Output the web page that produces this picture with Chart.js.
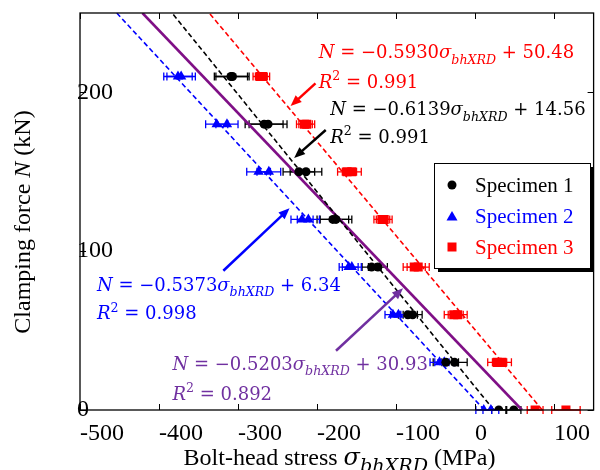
<!DOCTYPE html>
<html><head><meta charset="utf-8">
<script src="https://cdn.jsdelivr.net/npm/chart.js@4.4.1/dist/chart.umd.min.js"></script>
<style>html,body{margin:0;padding:0;background:#fff}canvas{display:block}</style>
</head><body>
<canvas id="c" width="600" height="470"></canvas>
<script>
// ---- data ----
const loadLevels  = [0,0,30,30,60,60,90,90,120,120,150,150,180,180,210,210]; // clamping force N (kN)
const spec1Stress = [30,49,-37,-26,-85,-79,-131,-123,-180,-176,-223,-214,-267,-262,-309,-307];
const spec1Error  = [9,9,16,16,12,12,12,12,20,20,20,20,24,24,21,21];
const spec2Stress = [11,20,-45,-39,-104,-97,-160,-156,-219,-211,-274,-261,-327,-314,-376,-372];
const spec2Error  = [10,10,12,12,10,10,12,12,14,14,15,15,14,14,18,18];
const spec3Stress = [76,115,28,34,-27,-22,-77,-72,-118,-115,-162,-156,-216,-213,-272,-269];
const spec3Error  = [10,18,12,12,12,12,14,14,10,10,12,12,10,10,9,9];

const fitForce     = [0, 250];
const fit1Stress   = [23.7, -383.5];   // specimen 1
const fit2Stress   = [11.8, -453.5];   // specimen 2
const fit3Stress   = [85.1, -336.5];   // specimen 3
const fitAllStress = [59.4, -421.0];   // all specimens

const seriesNames = ['Specimen 1', 'Specimen 2', 'Specimen 3'];
const fitSlopes     = ['0.6139', '0.5373', '0.5930', '0.5203'];
const fitIntercepts = ['14.56', '6.34', '50.48', '30.93'];
const fitR2         = ['0.991', '0.998', '0.991', '0.892'];
// annotation anchors (stress, force): equation baseline, R² baseline
const eqAnchorStress = [-183.3, -478.5, -197.9, -383.0];
const eqAnchorForce  = [185.5, 75.1, 221.5, 25.2];
const r2AnchorForce  = [168.1, 57.1, 203.0, 6.3];
// arrows (stress, force) from -> to
const arrowFromStress = [-189, -318.6, -202, -176];
const arrowFromForce  = [176.3, 87.7, 205.7, 37.3];
const arrowToStress   = [-229, -234.8, -233.5, -91.2];
const arrowToForce    = [158.7, 127.0, 191.4, 76.6];

const xTickLabels = [-500,-400,-300,-200,-100,0,100];
const yTickLabels = [0,100,200];

const BLACK = '#000000', BLUE = '#0000FF', RED = '#FF0000', PURPLE_LINE = '#7F0F86', PURPLE_TXT = '#7030A0';
const colors = [BLACK, BLUE, RED, PURPLE_TXT];
const SERIF = 'Liberation Serif';
const MATH = 'DejaVu Serif';

function pts(xs, ys){ return xs.map((x,i)=>({x:x, y:ys[i]})); }

function segSize(s,size){ return (s.sub||s.sup)?size*(s.k||0.7):size; }
function richWidth(ctx, segs, size, fam){
  let w=0;
  for(const s of segs){
    ctx.font=(s.it?'italic ':'')+segSize(s,size)+'px "'+(s.fam||fam)+'"';
    w+=ctx.measureText(s.t).width;
  }
  return w;
}
function drawRich(ctx, segs, x, y, size, fam, color){
  let cx=x;
  ctx.fillStyle=color; ctx.textAlign='left'; ctx.textBaseline='alphabetic';
  for(const s of segs){
    ctx.font=(s.it?'italic ':'')+segSize(s,size)+'px "'+(s.fam||fam)+'"';
    const dy=s.sub?size*0.3:(s.sup?-size*0.42:0);
    ctx.fillText(s.t, cx, y+dy);
    cx+=ctx.measureText(s.t).width;
  }
}
function arrow(ctx,x1,y1,x2,y2,color){
  const a=Math.atan2(y2-y1,x2-x1), L=11, W=4.5, c=Math.cos(a), s=Math.sin(a);
  ctx.save();
  ctx.strokeStyle=color; ctx.lineWidth=2.5; ctx.setLineDash([]);
  ctx.beginPath(); ctx.moveTo(x1,y1); ctx.lineTo(x2-L*0.8*c, y2-L*0.8*s); ctx.stroke();
  ctx.fillStyle=color; ctx.beginPath(); ctx.moveTo(x2,y2);
  ctx.lineTo(x2-L*c+W*s, y2-L*s-W*c);
  ctx.lineTo(x2-L*c-W*s, y2-L*s+W*c);
  ctx.closePath(); ctx.fill();
  ctx.restore();
}

const specStress=[spec1Stress,spec2Stress,spec3Stress];
const specError=[spec1Error,spec2Error,spec3Error];

const deco = {
  id:'deco',
  beforeDatasetsDraw(chart){
    const ctx=chart.ctx, xs=chart.scales.x, ys=chart.scales.y, ca=chart.chartArea;
    ctx.save();
    ctx.beginPath(); ctx.rect(ca.left,ca.top-5,ca.right-ca.left,ca.bottom-ca.top+10); ctx.clip();
    ctx.lineWidth=1.3;
    for(let k=0;k<3;k++){
      ctx.strokeStyle=colors[k];
      specStress[k].forEach((v,i)=>{
        const y=ys.getPixelForValue(loadLevels[i]);
        const xa=xs.getPixelForValue(v-specError[k][i]), xb=xs.getPixelForValue(v+specError[k][i]);
        ctx.beginPath();
        ctx.moveTo(xa,y); ctx.lineTo(xb,y);
        ctx.moveTo(xa,y-4); ctx.lineTo(xa,y+4);
        ctx.moveTo(xb,y-4); ctx.lineTo(xb,y+4);
        ctx.stroke();
      });
    }
    ctx.restore();
  },
  afterDraw(chart){
    const ctx=chart.ctx, xs=chart.scales.x, ys=chart.scales.y, ca=chart.chartArea;
    ctx.save();
    // frame
    ctx.strokeStyle='#000'; ctx.lineWidth=1.3;
    ctx.strokeRect(ca.left,ca.top,ca.right-ca.left,ca.bottom-ca.top);
    // inward ticks
    ctx.lineWidth=1;
    xs.ticks.forEach(t=>{
      const x=Math.round(xs.getPixelForValue(t.value))+0.5;
      ctx.beginPath(); ctx.moveTo(x,ca.bottom); ctx.lineTo(x,ca.bottom-6);
      ctx.moveTo(x,ca.top); ctx.lineTo(x,ca.top+6); ctx.stroke();
    });
    ys.ticks.forEach(t=>{
      const y=Math.round(ys.getPixelForValue(t.value))+0.5;
      ctx.beginPath(); ctx.moveTo(ca.left,y); ctx.lineTo(ca.left+6,y);
      ctx.moveTo(ca.right,y); ctx.lineTo(ca.right-6,y); ctx.stroke();
    });
    // arrows
    for(let k=0;k<4;k++){
      arrow(ctx, xs.getPixelForValue(arrowFromStress[k]), ys.getPixelForValue(arrowFromForce[k]),
                 xs.getPixelForValue(arrowToStress[k]), ys.getPixelForValue(arrowToForce[k]), colors[k]);
    }
    // equations
    for(let k=0;k<4;k++){
      const x=xs.getPixelForValue(eqAnchorStress[k]);
      const eq=[{t:'N',it:true},{t:' = −'+fitSlopes[k]},{t:'σ',it:true},{t:'bhXRD',it:true,sub:true},{t:' + '+fitIntercepts[k]}];
      drawRich(ctx, eq, x, ys.getPixelForValue(eqAnchorForce[k]), 18, MATH, colors[k]);
      const r2=[{t:'R',it:true},{t:'2',sup:true},{t:' = '+fitR2[k]}];
      drawRich(ctx, r2, x, ys.getPixelForValue(r2AnchorForce[k]), 18, MATH, colors[k]);
    }
    // legend
    const lx=434, ly=163, lw=156, lh=105;
    ctx.fillStyle='#000'; ctx.fillRect(lx+4,ly+4,lw,lh);
    ctx.fillStyle='#fff'; ctx.fillRect(lx,ly,lw,lh);
    ctx.strokeStyle='#000'; ctx.lineWidth=1; ctx.strokeRect(lx+0.5,ly+0.5,lw,lh);
    const rowY=[185,216.5,247];
    for(let k=0;k<3;k++){
      const mx=452, my=rowY[k];
      ctx.fillStyle=colors[k];
      ctx.beginPath();
      if(k===0){ ctx.arc(mx,my,4.5,0,Math.PI*2); }
      else if(k===1){ ctx.moveTo(mx,my-5.5); ctx.lineTo(mx+5.5,my+4); ctx.lineTo(mx-5.5,my+4); ctx.closePath(); }
      else { ctx.rect(mx-4.5,my-4.5,9,9); }
      ctx.fill();
      ctx.font='21px "'+SERIF+'"'; ctx.textAlign='left'; ctx.textBaseline='middle';
      ctx.fillText(seriesNames[k], 475, my+1);
    }
    // axis titles
    const xt=[{t:'Bolt-head stress '},{t:'σ',it:true,fam:MATH},{t:'bhXRD',it:true,sub:true,k:0.8,fam:MATH},{t:' (MPa)'}];
    const xw=richWidth(ctx,xt,24,SERIF);
    drawRich(ctx, xt, 339.5-xw/2, 465, 24, SERIF, '#000');
    ctx.save();
    ctx.translate(30,222); ctx.rotate(-Math.PI/2);
    const yt=[{t:'Clamping force '},{t:'N',it:true},{t:' (kN)'}];
    const yw=richWidth(ctx,yt,24,SERIF);
    drawRich(ctx, yt, -yw/2, 0, 24, SERIF, '#000');
    ctx.restore();
    ctx.restore();
  }
};

const datasets=[
  {label:seriesNames[0], data:pts(spec1Stress,loadLevels), backgroundColor:BLACK, borderColor:BLACK, pointStyle:'circle', pointRadius:4.5, borderWidth:0, showLine:false, order:1},
  {label:seriesNames[1], data:pts(spec2Stress,loadLevels), backgroundColor:BLUE, borderColor:BLUE, pointStyle:'triangle', pointRadius:6, borderWidth:0, showLine:false, order:1},
  {label:seriesNames[2], data:pts(spec3Stress,loadLevels), backgroundColor:RED, borderColor:RED, pointStyle:'rect', pointRadius:6.4, borderWidth:0, showLine:false, order:1},
  {label:'fit1', data:pts(fit1Stress,fitForce), showLine:true, borderColor:BLACK, borderWidth:1.6, borderDash:[5,3], pointRadius:0, order:2},
  {label:'fit2', data:pts(fit2Stress,fitForce), showLine:true, borderColor:BLUE, borderWidth:1.6, borderDash:[5,3], pointRadius:0, order:2},
  {label:'fit3', data:pts(fit3Stress,fitForce), showLine:true, borderColor:RED, borderWidth:1.6, borderDash:[5,3], pointRadius:0, order:2},
  {label:'fitAll', data:pts(fitAllStress,fitForce), showLine:true, borderColor:PURPLE_LINE, borderWidth:2.6, pointRadius:0, order:2}
];

new Chart(document.getElementById('c'), {
  type:'scatter',
  data:{datasets:datasets},
  options:{
    responsive:false, animation:false, devicePixelRatio:1,
    layout:{padding:{top:13,right:3,left:0,bottom:0}},
    plugins:{legend:{display:false}, tooltip:{enabled:false}},
    scales:{
      x:{type:'linear', min:-500, max:150,
        ticks:{stepSize:50, autoSkip:false, maxRotation:0, align:'start', padding:1, color:'#000',
          font:{family:SERIF, size:24},
          callback:v=> xTickLabels.includes(v) ? String(v) : null},
        grid:{display:false}, border:{display:false},
        afterFit:s=>{s.height=60; s.paddingLeft=0; s.paddingRight=0;}},
      y:{type:'linear', min:0, max:250,
        ticks:{stepSize:50, autoSkip:false, mirror:true, crossAlign:'near', padding:-3, color:'#000',
          font:{family:SERIF, size:24},
          callback:v=> yTickLabels.includes(v) ? String(v) : null},
        grid:{display:false}, border:{display:false},
        afterFit:s=>{s.width=80; s.paddingTop=0; s.paddingBottom=0;}}
    }
  },
  plugins:[deco]
});
</script>
</body></html>
